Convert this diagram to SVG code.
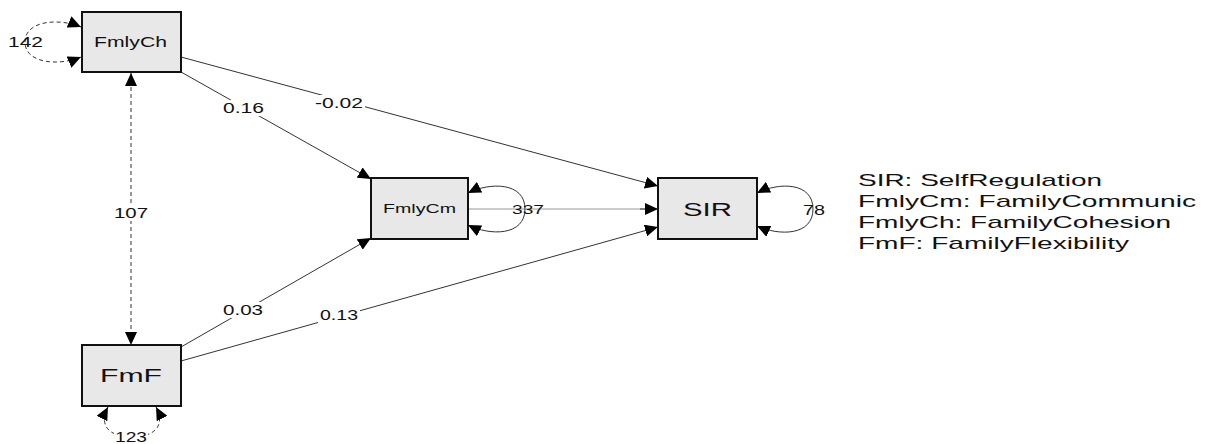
<svg xmlns="http://www.w3.org/2000/svg" width="1206" height="444" viewBox="0 0 1206 444">
<style>
text{font-family:"Liberation Sans",Arial,sans-serif;fill:#111}
.box{fill:#e8e8e8;stroke:#111;stroke-width:2}
.edge{fill:none;stroke:#333;stroke-width:1}
.grey{fill:none;stroke:#999;stroke-width:1.2}
.dash{fill:none;stroke:#333;stroke-width:1;stroke-dasharray:4,3}
.lbl{font-size:15px}
.bg{fill:#fff}
</style>
<defs>
<marker id="ah" markerUnits="userSpaceOnUse" markerWidth="13" markerHeight="12" refX="13" refY="6" orient="auto-start-reverse">
<path d="M0,0 L13,6 L0,12 z" fill="#000"/>
</marker>
</defs>
<rect width="1206" height="444" fill="#fff"/>
<g id="connectors">
<line class="edge" x1="181" y1="57" x2="658" y2="186" marker-end="url(#ah)"/>
<line class="edge" x1="181" y1="72" x2="371" y2="179" marker-end="url(#ah)"/>
<line class="edge" x1="181" y1="347" x2="371" y2="238" marker-end="url(#ah)"/>
<line class="edge" x1="181" y1="361" x2="658" y2="227" marker-end="url(#ah)"/>
<line class="grey" x1="468" y1="209" x2="650" y2="209"/>
<line class="edge" x1="640" y1="209" x2="658" y2="209" marker-end="url(#ah)"/>
<line class="dash" x1="131" y1="73" x2="131" y2="345" marker-start="url(#ah)" marker-end="url(#ah)"/>
<path class="dash" d="M81,27 C60,18 25,20 25,42 C25,64 60,66 81,57" marker-start="url(#ah)" marker-end="url(#ah)"/>
<path class="dash" d="M108,407 C98,426 110,437 132,437 C154,437 166,426 156,407" marker-start="url(#ah)" marker-end="url(#ah)"/>
<path class="edge" d="M468,193 C490,182 525,182 525,209 C525,236 490,236 468,225" marker-start="url(#ah)" marker-end="url(#ah)"/>
<path class="edge" d="M757,193 C779,182 813,182 813,209 C813,236 779,236 757,226" marker-start="url(#ah)" marker-end="url(#ah)"/>
<rect class="bg" x="221" y="100" width="45" height="16"/>
<text class="lbl" x="223" y="113" textLength="41" lengthAdjust="spacingAndGlyphs">0.16</text>
<rect class="bg" x="313" y="95" width="52" height="16"/>
<text class="lbl" x="315" y="108" textLength="48" lengthAdjust="spacingAndGlyphs">-0.02</text>
<rect class="bg" x="221" y="302" width="44" height="16"/>
<text class="lbl" x="223" y="315" textLength="40" lengthAdjust="spacingAndGlyphs">0.03</text>
<rect class="bg" x="318" y="307" width="42" height="16"/>
<text class="lbl" x="320" y="320" textLength="38" lengthAdjust="spacingAndGlyphs">0.13</text>
<rect class="bg" x="112" y="204" width="38" height="17"/>
<text class="lbl" x="114" y="218" textLength="34" lengthAdjust="spacingAndGlyphs">107</text>
<text class="lbl" x="8" y="47" textLength="35" lengthAdjust="spacingAndGlyphs">142</text>
<rect class="bg" x="114" y="430" width="34" height="14"/>
<text x="115" y="442" font-size="14" textLength="32" lengthAdjust="spacingAndGlyphs">123</text>
<text x="512" y="214" font-size="13" textLength="32" lengthAdjust="spacingAndGlyphs">337</text>
<text x="803" y="215" font-size="14" textLength="22" lengthAdjust="spacingAndGlyphs">78</text>
</g>
<g id="FmlyCh">
<rect class="box" x="82" y="12" width="99" height="60"/>
<text x="94" y="47" font-size="14" textLength="73" lengthAdjust="spacingAndGlyphs">FmlyCh</text>
</g>
<g id="FmlyCm">
<rect class="box" x="371" y="178" width="97" height="61"/>
<text x="383" y="213" font-size="12" textLength="73" lengthAdjust="spacingAndGlyphs">FmlyCm</text>
</g>
<g id="SIR">
<rect class="box" x="658" y="178" width="99" height="61"/>
<text x="683" y="216" font-size="18" textLength="49" lengthAdjust="spacingAndGlyphs">SIR</text>
</g>
<g id="FmF">
<rect class="box" x="82" y="345" width="99" height="61"/>
<text x="100" y="382" font-size="19" textLength="62" lengthAdjust="spacingAndGlyphs">FmF</text>
</g>
<g id="legend" font-size="17">
<text x="858" y="186" textLength="244" lengthAdjust="spacingAndGlyphs">SIR: SelfRegulation</text>
<text x="858" y="207" textLength="338" lengthAdjust="spacingAndGlyphs">FmlyCm: FamilyCommunic</text>
<text x="858" y="228" textLength="313" lengthAdjust="spacingAndGlyphs">FmlyCh: FamilyCohesion</text>
<text x="858" y="249" textLength="271" lengthAdjust="spacingAndGlyphs">FmF: FamilyFlexibility</text>
</g>
</svg>
